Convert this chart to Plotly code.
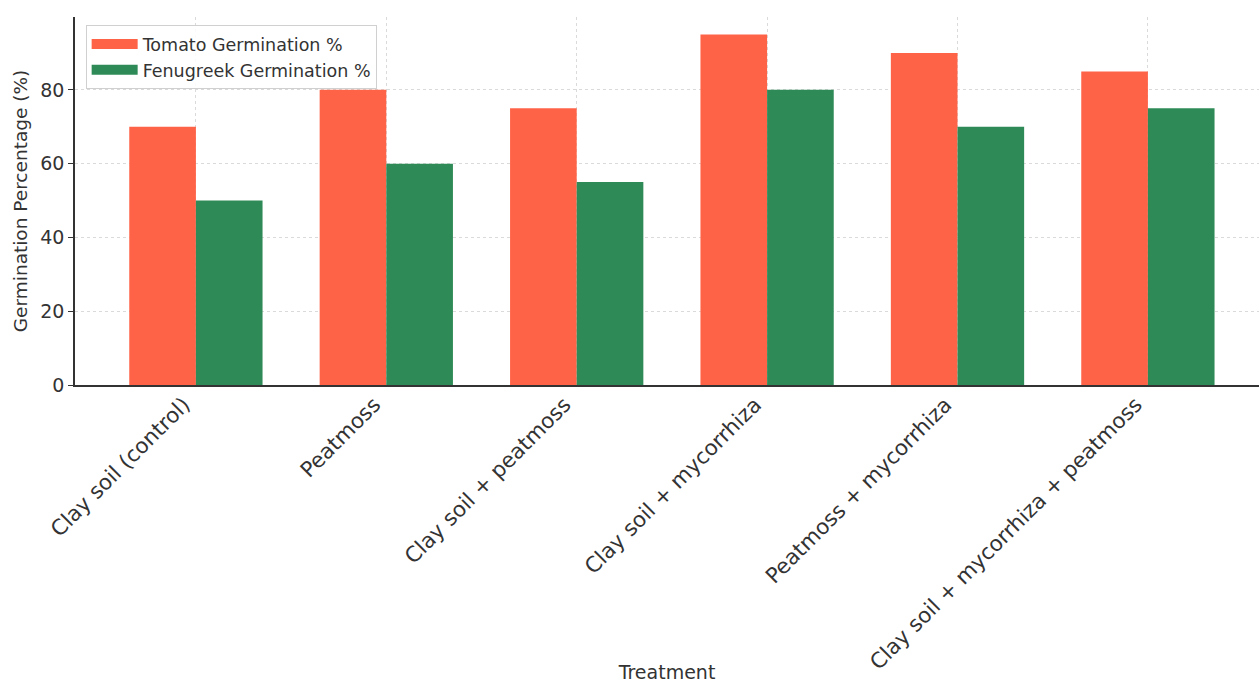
import plotly.graph_objects as go

treatments = [
    "Clay soil (control)",
    "Peatmoss",
    "Clay soil + peatmoss",
    "Clay soil + mycorrhiza",
    "Peatmoss + mycorrhiza",
    "Clay soil + mycorrhiza + peatmoss",
]
tomato_pct = [70, 80, 75, 95, 90, 85]
fenugreek_pct = [50, 60, 55, 80, 70, 75]
series_names = ["Tomato Germination %", "Fenugreek Germination %"]
y_ticks = [0, 20, 40, 60, 80]

TOMATO = "#FF6347"
SEAGREEN = "#2E8B57"
FONT = "DejaVu Sans, Verdana, sans-serif"
TXT = "#333333"

fig = go.Figure()
for name, vals, col in [(series_names[0], tomato_pct, TOMATO),
                        (series_names[1], fenugreek_pct, SEAGREEN)]:
    fig.add_trace(go.Bar(
        x=treatments, y=vals, name=name, showlegend=False,
        marker=dict(color=col, line=dict(width=0)),
    ))
# legend keys drawn as wide patches
for name, col in [(series_names[0], TOMATO), (series_names[1], SEAGREEN)]:
    fig.add_trace(go.Scatter(
        x=[None], y=[None], mode="lines", name=name,
        line=dict(color=col, width=10),
    ))

W, H = 1259, 683
left, top, bottom = 75, 17, 298
plot_w = W - left
unit = 190.4
x0 = -0.635
x1 = x0 + plot_w / unit

fig.update_layout(
    width=W, height=H,
    margin=dict(l=left, r=0, t=top, b=bottom, pad=0, autoexpand=False),
    paper_bgcolor="white", plot_bgcolor="white",
    barmode="group", bargap=0.3, bargroupgap=0,
    font=dict(family=FONT, color=TXT, size=18),
    showlegend=True,
    legend=dict(
        x=0.009, y=0.978, xanchor="left", yanchor="top",
        bgcolor="rgba(255,255,255,0.85)", bordercolor="#d0d0d0", borderwidth=1,
        font=dict(size=17.5, color=TXT), tracegroupgap=0, itemwidth=46,
    ),
    xaxis=dict(
        range=[x0, x1], tickangle=-45, showline=True, linecolor="#333333", linewidth=1.5,
        ticks="", automargin=False, ticklabelstandoff=-3, ticklabelshift=-12,
        showgrid=True, gridcolor="#dadada", griddash="dot", gridwidth=1,
        tickfont=dict(size=21.3, color=TXT),
        title=dict(text="Treatment", font=dict(size=19, color=TXT), standoff=20),
        zeroline=False,
    ),
    yaxis=dict(
        range=[0, 99.75], tickvals=y_ticks, showline=True, linecolor="#333333", linewidth=1.5,
        ticks="outside", ticklen=5, tickcolor="#333333", automargin=False,
        showgrid=True, gridcolor="#dadada", griddash="dot", gridwidth=1,
        tickfont=dict(size=19, color=TXT),
        title=dict(text="Germination Percentage (%)", font=dict(size=18.5, color=TXT), standoff=8),
        zeroline=False,
    ),
)

fig.write_html("out.html")
